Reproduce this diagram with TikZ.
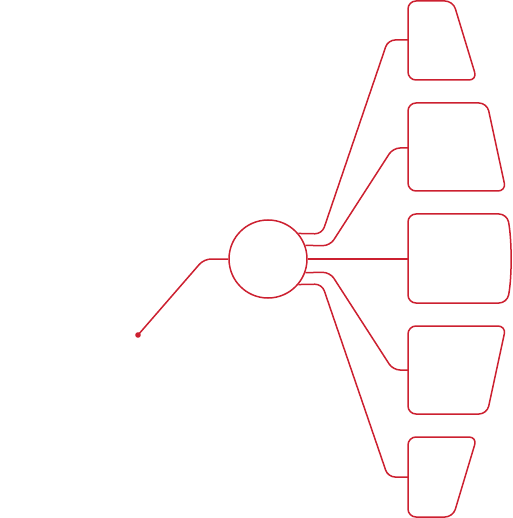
\documentclass[tikz,border=0pt]{standalone}
\usepackage{xcolor}
\definecolor{linkred}{RGB}{204,32,48}

\begin{document}
\begin{tikzpicture}[x=1pt, y=-1pt, line width=1.5pt,
    link/.style={draw=linkred, rounded corners=7pt},
    card/.style={draw=linkred, rounded corners=8pt},
    hubnode/.style={circle, draw=linkred, line width=1.5pt, minimum size=78pt, inner sep=0pt}]
    \useasboundingbox (0,0) rectangle (512,518);

    \node[hubnode] (hub) at (268,259) {};
    \fill[linkred] (138,335) circle (2.8pt);
    \coordinate (src) at (138,335);

    \draw[card] (408,1) -- (453,1) -- (477,80) -- (408,80) -- cycle;
    \draw[card] (408,103) -- (487,103) -- (506,191) -- (408,191) -- cycle;
    \draw[card] (408,214) -- (507,214) .. controls (512,240) and (512,278) .. (507,303) -- (408,303) -- cycle;
    \draw[card] (408,326) -- (506,326) -- (487,414) -- (408,414) -- cycle;
    \draw[card] (408,437) -- (477,437) -- (453,517) -- (408,517) -- cycle;

    \coordinate (c1) at (408,40);
    \coordinate (c2) at (408,148);
    \coordinate (c3) at (408,259);
    \coordinate (c4) at (408,370);
    \coordinate (c5) at (408,477);

    \draw[link] (src) -- (204,259) -- (hub.west);
    \draw[link] (hub.40) -- (322,233.9) -- (388,40) -- (c1);
    \draw[link] (hub.20) -- (330,245.7) -- (393,148) -- (c2);
    \draw[link] (hub.east) -- (c3);
    \draw[link] (hub.-20) -- (330,272.3) -- (393,370) -- (c4);
    \draw[link] (hub.-40) -- (322,284.1) -- (388,477) -- (c5);
\end{tikzpicture}
\end{document}
